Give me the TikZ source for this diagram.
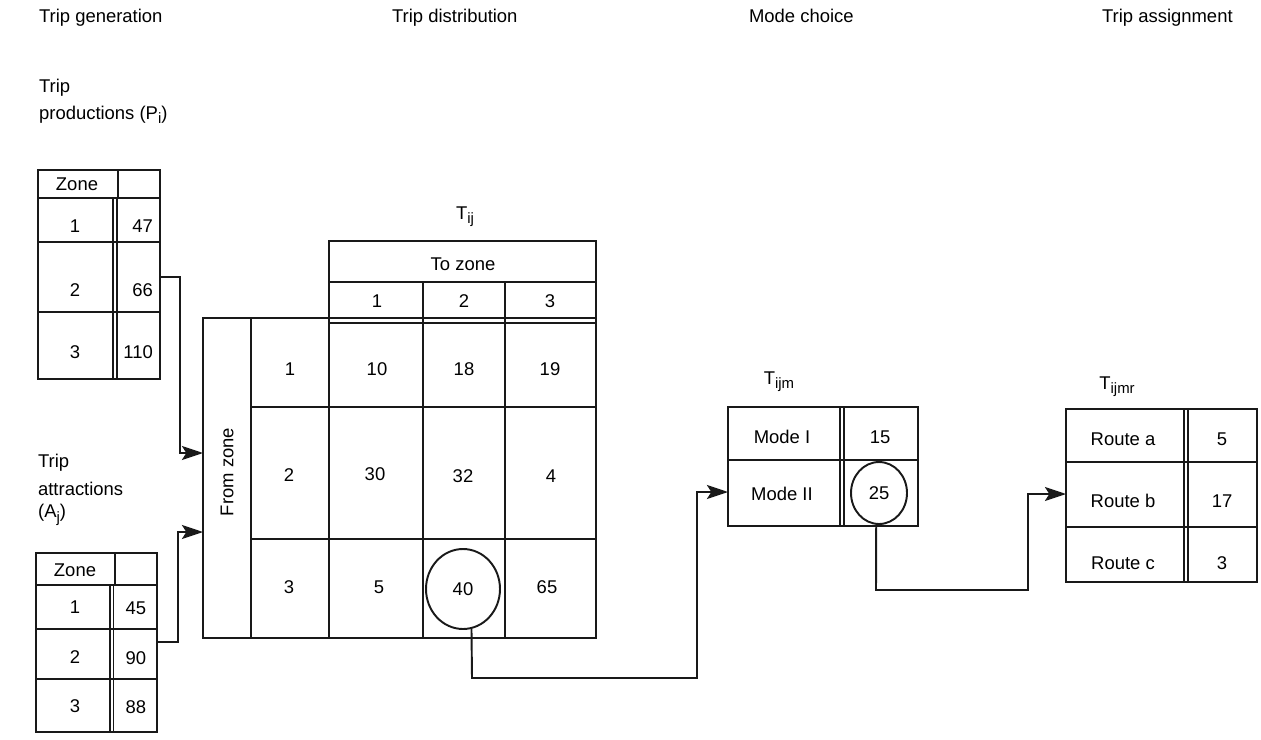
\documentclass[tikz,border=0pt]{standalone}
\usepackage{fontspec}
\setmainfont{Liberation Sans}
\usetikzlibrary{arrows.meta,shapes.geometric}
\newcommand{\sbs}[1]{\raisebox{-0.45ex}{\fontsize{8.5}{10}\selectfont #1}}
\begin{document}
\begin{tikzpicture}[x=0.02cm,y=-0.02cm,
  every node/.style={font=\fontsize{10.5}{12}\selectfont, inner sep=1pt},
  ln/.style={line width=1.1pt, draw=black!90},
  arr/.style={line width=1.1pt, draw=black!90, -{Stealth[length=12pt,width=8pt,inset=2.5pt]}},
  lbl/.style={anchor=west},
  head/.style={anchor=base west},
  ring/.style={draw=black!90, ellipse, line width=1.1pt, inner sep=0pt}]
\useasboundingbox (0,0) rectangle (1261,740);

% ---------- column headings ----------
\node[head] (hgen) at (37,23) {Trip generation};
\node[head] (hdist) at (390,23) {Trip distribution};
\node[head] (hmode) at (747,23) {Mode choice};
\node[head] (hass) at (1100,23) {Trip assignment};

% ---------- productions ----------
\node[lbl] (pl1) at (37,88) {Trip};
\node[lbl] (pl2) at (37,115) {productions (P\sbs{i})};
\draw[ln] (38,170) rectangle (160,379);
\draw[ln] (38,198) -- (160,198);
\draw[ln] (118,170) -- (118,198);
\draw[ln] (113,198) -- (113,379);
\draw[ln] (117,198) -- (117,379);
\draw[ln] (38,242) -- (160,242);
\draw[ln] (38,312) -- (160,312);
\node (pz) at (77,184) {Zone};
\node (p1) at (75,226) {1};
\node (p2) at (75,290) {2};
\node (p3) at (75,352) {3};
\node[anchor=east] (pv1) at (155,226) {47};
\node[anchor=east] (pv2) at (155,290) {66};
\node[anchor=east] (pv3) at (155,352) {110};
\coordinate (pout) at (160,277);

% ---------- attractions ----------
\node[lbl] (al1) at (36,463) {Trip};
\node[lbl] (al2) at (36,489) {attractions};
\node[lbl] (al3) at (36,515) {(A\sbs{j})};
\draw[ln] (36,553) rectangle (157,732);
\draw[ln] (36,585) -- (157,585);
\draw[ln] (115,553) -- (115,585);
\draw[ln] (110,585) -- (110,732);
\draw[ln] (113.5,585) -- (113.5,732);
\draw[ln] (36,629) -- (157,629);
\draw[ln] (36,679) -- (157,679);
\node (az) at (75,570) {Zone};
\node (a1) at (75,607) {1};
\node (a2) at (75,657) {2};
\node (a3) at (75,706) {3};
\node (av1) at (136,608) {45};
\node (av2) at (136,658) {90};
\node (av3) at (136,707) {88};
\coordinate (aout) at (157,642);

% ---------- distribution matrix ----------
\node (tij) at (465,217) {T\sbs{ij}};
\draw[ln] (329,241) rectangle (596,318);
\draw[ln] (329,282) -- (596,282);
\draw[ln] (423,282) -- (423,638);
\draw[ln] (505,282) -- (505,638);
\draw[ln] (329,323) -- (596,323);
\draw[ln] (203,318) rectangle (596,638);
\draw[ln] (251,318) -- (251,638);
\draw[ln] (329,318) -- (329,638);
\draw[ln] (251,407) -- (596,407);
\draw[ln] (251,539) -- (596,539);
\node (tz) at (463,264) {To zone};
\node (c1) at (377,301) {1};
\node (c2) at (464,301) {2};
\node (c3) at (550,301) {3};
\node[rotate=90] (fz) at (227,472) {From zone};
\node (r1) at (290,369) {1};
\node (r2) at (289,475) {2};
\node (r3) at (289,587) {3};
\node (m11) at (377,369) {10};
\node (m12) at (464,369) {18};
\node (m13) at (550,369) {19};
\node (m21) at (375,474) {30};
\node (m22) at (463,476) {32};
\node (m23) at (551,476) {4};
\node (m31) at (379,587) {5};
\node[ring, minimum width=1.48cm, minimum height=1.6cm] (m32) at (463,589) {40};
\node (m33) at (547,587) {65};
\coordinate (din1) at (203,453);
\coordinate (din2) at (203,532);

% ---------- mode choice ----------
\node (tijm) at (779,382) {T\sbs{ijm}};
\draw[ln] (728,407) rectangle (918,526);
\draw[ln] (728,460) -- (918,460);
\draw[ln] (840,407) -- (840,526);
\draw[ln] (844,407) -- (844,526);
\node (mo1) at (782,437) {Mode I};
\node (mo2) at (782,494) {Mode II};
\node (mv1) at (880,437) {15};
\node[ring, minimum width=1.12cm, minimum height=1.24cm] (mv2) at (879,493) {25};
\coordinate (min) at (728,492);

% ---------- route assignment ----------
\node (tijmr) at (1117,387) {T\sbs{ijmr}};
\draw[ln] (1066,409) rectangle (1257,582);
\draw[ln] (1066,462) -- (1257,462);
\draw[ln] (1066,527) -- (1257,527);
\draw[ln] (1184,409) -- (1184,582);
\draw[ln] (1188,409) -- (1188,582);
\node (ra) at (1123,439) {Route a};
\node (rb) at (1123,501) {Route b};
\node (rc) at (1123,563) {Route c};
\node (rva) at (1222,439) {5};
\node (rvb) at (1222,501) {17};
\node (rvc) at (1222,563) {3};
\coordinate (rin) at (1066,494);

% ---------- connectors ----------
\draw[arr] (pout) -- (180,277) |- (din1);
\draw[arr] (aout) -- (178,642) |- (din2);
\draw[arr] (m32.-78) -- (472,678) -- (697,678) |- (min);
\draw[arr] (mv2.-95) -- (876,590) -- (1028,590) |- (rin);
\end{tikzpicture}
\end{document}
